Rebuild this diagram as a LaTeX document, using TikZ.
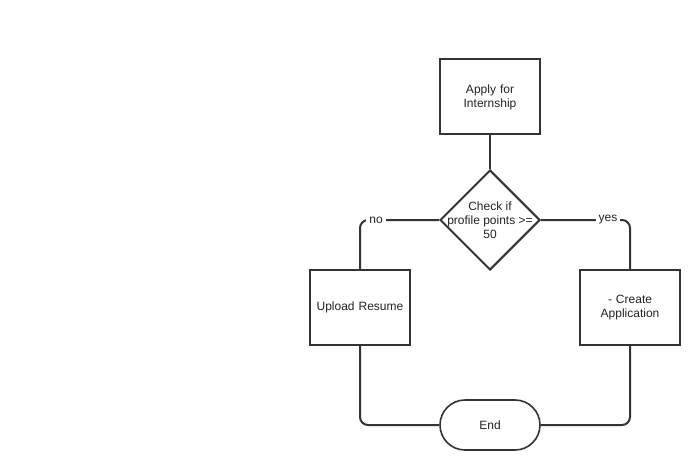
\documentclass[tikz,border=0pt]{standalone}
\usepackage{fontspec}
\setmainfont{Liberation Sans}
\usetikzlibrary{shapes.geometric}
\definecolor{ln}{HTML}{333333}
\definecolor{tx}{HTML}{222222}
\begin{document}
\begin{tikzpicture}[x=1pt,y=-1pt,
  every node/.style={font=\fontsize{12}{14}\selectfont, text=tx},
  box/.style={draw=ln, line width=2pt, minimum width=100pt, minimum height=75pt, align=center, inner sep=2pt, text width=92pt},
  dia/.style={draw=ln, line width=2pt, diamond, minimum width=100pt, minimum height=100pt, inner sep=0pt},
  diatext/.style={align=center, inner sep=0pt},
  term/.style={draw=ln, line width=1.6pt, rounded corners=25pt, minimum width=100pt, minimum height=50pt},
  conn/.style={draw=ln, line width=2pt, rounded corners=8pt},
  lab/.style={fill=white, inner sep=3pt}]
\useasboundingbox (0,0) rectangle (700,470);
\node[box] (apply) at (490,97) {Apply for\\Internship};
\node[dia] (check) at (490,220) {};
\node[diatext] (checktext) at (check.center) {Check if\\profile points >=\\50};
\node[box] (upload) at (360,307.5) {Upload Resume};
\node[box] (create) at (630,307.5) {- Create\\Application};
\node[term] (end) at (490,425) {End};
\draw[conn] (apply.south) -- (check.north);
\draw[conn] (check.west) -- (upload.north |- check.west) -- (upload.north);
\draw[conn] (check.east) -- (create.north |- check.east) -- (create.north);
\draw[conn] (upload.south) -- (upload.south |- end.west) -- (end.west);
\draw[conn] (create.south) -- (create.south |- end.east) -- (end.east);
\node[lab] (no) at (376,220) {no};
\node[lab] (yes) at (608,220) {yes};
\end{tikzpicture}
\end{document}
